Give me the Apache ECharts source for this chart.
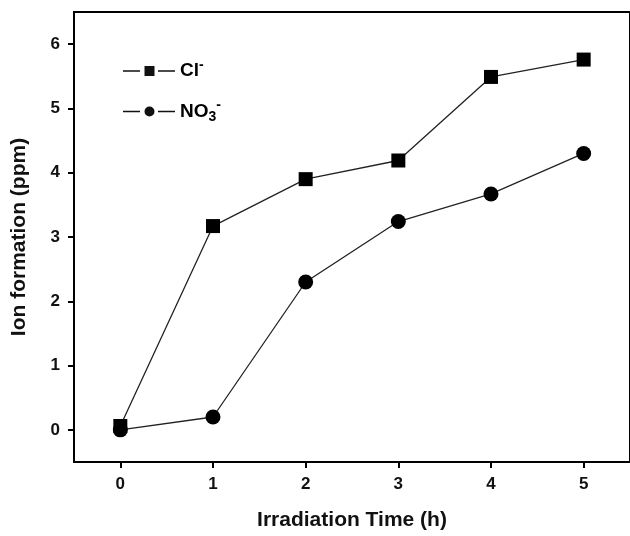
<!DOCTYPE html>
<html><head><meta charset="utf-8">
<script src="https://cdn.jsdelivr.net/npm/echarts@6/dist/echarts.min.js"></script>
<style>html,body{margin:0;padding:0;background:#fff}#c{width:630px;height:536px}</style>
</head><body><div id="c"></div>
<script>
const times = [0, 1, 2, 3, 4, 5];
const chloride = [0.06, 3.17, 3.9, 4.19, 5.49, 5.76];
const nitrate = [0.0, 0.2, 2.3, 3.24, 3.67, 4.3];
const xTicks = [0, 1, 2, 3, 4, 5];
const yTicks = [0, 1, 2, 3, 4, 5, 6];
const seriesNames = ['Cl', 'NO3'];

const font = 'Liberation Sans, Arial, sans-serif';
const squareIcon = 'path://M0,5.3H17V6.7H0Z M21.5,1H31.5V11H21.5Z M35,5.3H52V6.7H35Z';
const circleIcon = 'path://M0,5.3H17V6.7H0Z M21.5,6A5,5 0 1 1 31.5,6A5,5 0 1 1 21.5,6Z M35,5.3H52V6.7H35Z';
const chart = echarts.init(document.getElementById('c'));
chart.setOption({
  animation: false,
  backgroundColor: '#fff',
  grid: {left: 74, top: 12, bottom: 70, right: -2, show: true, borderColor: '#000', borderWidth: 2, backgroundColor: 'transparent'},
  legend: {
    orient: 'vertical', left: 118, top: 53, itemWidth: 52, itemHeight: 10, itemGap: 18,
    data: [{name: seriesNames[0], icon: squareIcon}, {name: seriesNames[1], icon: circleIcon}],
    itemStyle: {color: '#111', borderWidth: 0},
    lineStyle: {width: 0},
    formatter: function (n) { return n === 'Cl' ? '{b|Cl}{sup|-}' : '{b|NO}{sub|3}{sup|-}'; },
    textStyle: {
      fontFamily: font, color: '#000', padding: [0,0,0,0],
      rich: {
        b: {fontSize: 19, fontWeight: 'bold', fontFamily: font, color: '#000'},
        sup: {fontSize: 14, fontWeight: 'bold', fontFamily: font, color: '#000', verticalAlign: 'top', padding: [0,0,12,0]},
        sub: {fontSize: 14, fontWeight: 'bold', fontFamily: font, color: '#000', verticalAlign: 'bottom', padding: [12,0,0,0]}
      }
    }
  },
  xAxis: {
    type: 'value', min: -0.5, max: 5.5,
    name: 'Irradiation Time (h)', nameLocation: 'middle', nameGap: 48,
    nameTextStyle: {fontFamily: font, fontSize: 21, fontWeight: 'bold', color: '#111'},
    axisLine: {onZero: false, lineStyle: {color: '#000', width: 2}},
    axisTick: {customValues: xTicks, length: 6, lineStyle: {color: '#000', width: 2}},
    axisLabel: {customValues: xTicks, fontFamily: font, fontSize: 17, fontWeight: 'bold', color: '#111', margin: 14},
    splitLine: {show: false}
  },
  yAxis: {
    type: 'value', min: -0.5, max: 6.5,
    name: 'Ion formation (ppm)', nameLocation: 'middle', nameGap: 44,
    nameTextStyle: {fontFamily: font, fontSize: 21, fontWeight: 'bold', color: '#111'},
    axisLine: {onZero: false, lineStyle: {color: '#000', width: 2}},
    axisTick: {customValues: yTicks, length: 6, lineStyle: {color: '#000', width: 2}},
    axisLabel: {customValues: yTicks, fontFamily: font, fontSize: 17, fontWeight: 'bold', color: '#111', margin: 14},
    splitLine: {show: false}
  },
  series: [
    {name: seriesNames[0], type: 'line', data: times.map((t, i) => [t, chloride[i]]), symbol: 'rect', symbolSize: 14,
     itemStyle: {color: '#000'}, lineStyle: {color: '#222', width: 1.3}},
    {name: seriesNames[1], type: 'line', data: times.map((t, i) => [t, nitrate[i]]), symbol: 'circle', symbolSize: 15,
     itemStyle: {color: '#000'}, lineStyle: {color: '#222', width: 1.3}}
  ]
});
</script></body></html>
